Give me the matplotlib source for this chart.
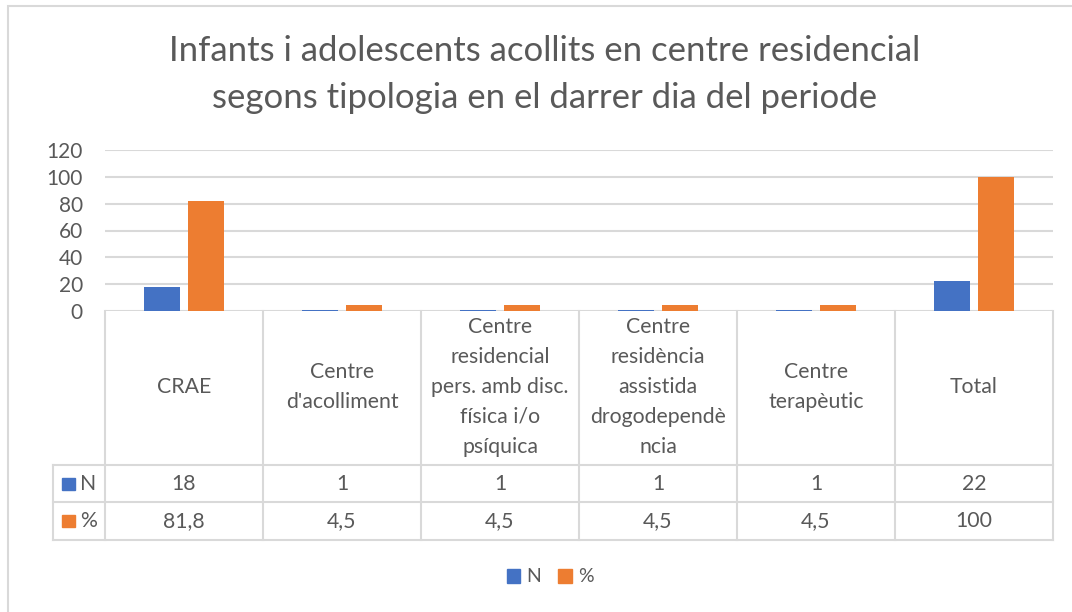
import matplotlib.pyplot as plt
from matplotlib.patches import Rectangle

# Dades
categories = ["CRAE", "Centre\nd'acolliment",
              "Centre\nresidencial\npers. amb disc.\nfísica i/o\npsíquica",
              "Centre\nresidència\nassistida\ndrogodependè\nncia",
              "Centre\nterapèutic", "Total"]
n_values = [18, 1, 1, 1, 1, 22]
pct_values = [81.8, 4.5, 4.5, 4.5, 4.5, 100]
n_labels = ["18", "1", "1", "1", "1", "22"]
pct_labels = ["81,8", "4,5", "4,5", "4,5", "4,5", "100"]

BLUE = '#4472C4'
ORANGE = '#ED7D31'
GRID = '#D9D9D9'
TXT = '#595959'

plt.rcParams['font.family'] = ['Lato', 'DejaVu Sans']

W, H = 1072, 612
fig = plt.figure(figsize=(W / 100, H / 100), dpi=100)

def box(x0, y0, x1, y1):
    # pixels -> figure coords
    return [x0 / W, 1 - y1 / H, (x1 - x0) / W, (y1 - y0) / H]

# marc exterior
fig.add_artist(Rectangle((8 / W, 0 - 0.1), 1.2, 1 - 6 / H + 0.1, transform=fig.transFigure,
                         fill=False, edgecolor=GRID, linewidth=1.5))

fig.text(545 / W, 1 - 51 / H, "Infants i adolescents acollits en centre residencial",
         ha='center', va='center', fontsize=25, color=TXT)
fig.text(545 / W, 1 - 98 / H, "segons tipologia en el darrer dia del periode",
         ha='center', va='center', fontsize=25, color=TXT)

# gràfic de barres
ax = fig.add_axes(box(105, 150, 1053, 311))
x = list(range(len(categories)))
ax.bar([i - 0.142 for i in x], n_values, width=0.228, color=BLUE, zorder=3)
ax.bar([i + 0.142 for i in x], pct_values, width=0.228, color=ORANGE, zorder=3)
ax.set_xlim(-0.5, len(categories) - 0.5)
ax.set_ylim(0, 120)
ax.set_yticks(range(0, 121, 20))
ax.yaxis.grid(True, color=GRID, linewidth=1.5, zorder=0)
ax.set_xticks([])
for s in ax.spines.values():
    s.set_visible(False)
ax.tick_params(axis='y', length=0, labelsize=15, labelcolor=TXT, pad=16)

# taula de dades
tx = fig.add_axes(box(53, 311, 1053, 541))
tx.set_xlim(53, 1053)
tx.set_ylim(541, 311)
tx.axis('off')
lw = 1.5
col_w = 158
rows_y = [311, 465, 502, 540]
fs = 15.3
for i in range(len(categories) + 1):
    xv = 105 + col_w * i
    tx.plot([xv, xv], [311, 540], color=GRID, lw=lw, clip_on=False)
tx.plot([53, 53], [465, 540], color=GRID, lw=lw, clip_on=False)
for yv in rows_y[1:]:
    tx.plot([53, 1053], [yv, yv], color=GRID, lw=lw, clip_on=False)
for i, cat in enumerate(categories):
    cx = 105 + col_w * (i + 0.5)
    tx.text(cx, 387, cat, ha='center', va='center', fontsize=fs, color=TXT, linespacing=1.62)
    tx.text(cx, 484, n_labels[i], ha='center', va='center', fontsize=fs, color=TXT)
    tx.text(cx, 521, pct_labels[i], ha='center', va='center', fontsize=fs, color=TXT)
tx.add_patch(Rectangle((62, 478), 13, 12, color=BLUE, clip_on=False))
tx.add_patch(Rectangle((62, 515), 13, 12, color=ORANGE, clip_on=False))
tx.text(80, 484, "N", ha='left', va='center', fontsize=fs, color=TXT)
tx.text(80, 521, "%", ha='left', va='center', fontsize=fs, color=TXT)

# llegenda inferior
handles = [Rectangle((0, 0), 1, 1, color=BLUE), Rectangle((0, 0), 1, 1, color=ORANGE)]
fig.legend(handles, ["N", "%"], loc='center', bbox_to_anchor=(550 / W, 1 - 577 / H),
           ncol=2, frameon=False, fontsize=14, labelcolor=TXT,
           handlelength=0.7, handleheight=0.7, handletextpad=0.3, columnspacing=0.9)

fig.savefig('out.png', dpi=100, facecolor='white')
